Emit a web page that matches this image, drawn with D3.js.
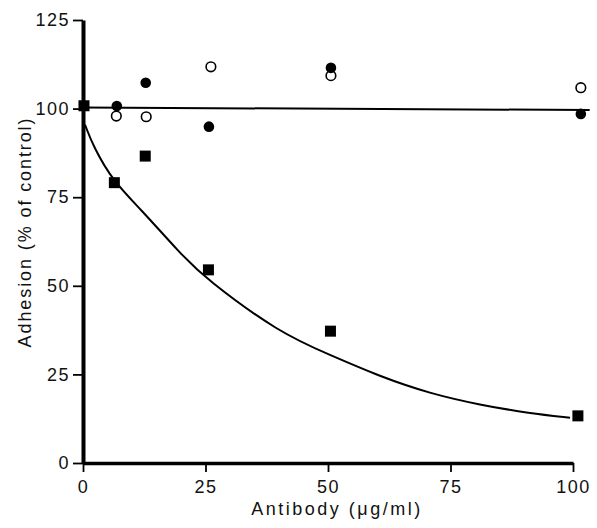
<!DOCTYPE html>
<html>
<head>
<meta charset="utf-8">
<script src="https://cdn.jsdelivr.net/npm/d3@7"></script>
<style>
  body { margin: 0; background: #fff; }
  text { font-family: "Liberation Sans", Arial, Helvetica, sans-serif; fill: #111; }
</style>
</head>
<body>
<div id="chart-area"></div>
<script>
var w = 597;
var h = 528;

// values (antibody ug/ml, adhesion % of control)
var filledX = [6.9, 12.8, 25.7, 50.6, 101.6];
var filledY = [100.7, 107.3, 94.9, 111.5, 98.5];
var openX = [6.8, 12.9, 26.1, 50.6, 101.6];
var openY = [97.9, 97.7, 111.8, 109.3, 105.9];
var squareX = [0.2, 6.4, 12.7, 25.6, 50.5, 101];
var squareY = [100.8, 79.1, 86.6, 54.5, 37.2, 13.3];
// fitted curve as traced on the figure
var curveX = [0.4, 2.1, 6.2, 11.6, 19.8, 24.9, 40.2, 50.4, 60.6, 70.8, 81, 91.2, 99.4];
var curveY = [95.5, 89.3, 79.4, 71.9, 59.2, 52.1, 36.6, 30.5, 24.4, 19.6, 16.4, 14, 12.8];
// control line
var lineX = [0, 103.4];
var lineY = [100.3, 99.6];
var xTicks = [0, 25, 50, 75, 100];
var yTicks = [0, 25, 50, 75, 100, 125];

var svg = d3.select('#chart-area').append('svg')
    .attr('width', w)
    .attr('height', h);

var x = d3.scaleLinear().domain([0, 100]).range([83, 573]);
var y = d3.scaleLinear().domain([0, 125]).range([463, 20]);

// axes
var xAxis = svg.append('g')
    .attr('transform', 'translate(0,463)')
    .call(d3.axisBottom(x).tickValues(xTicks).tickSize(9).tickPadding(8).tickSizeOuter(0));
var yAxis = svg.append('g')
    .attr('transform', 'translate(83,0)')
    .call(d3.axisLeft(y).tickValues(yTicks).tickSize(10).tickPadding(3).tickSizeOuter(0));

xAxis.select('.domain').attr('stroke', '#000').attr('stroke-width', 3.5);
yAxis.select('.domain').attr('stroke', '#000').attr('stroke-width', 4);
svg.selectAll('.tick line').attr('stroke', '#000').attr('stroke-width', 1.8);
svg.selectAll('.tick text')
    .attr('font-size', 18)
    .attr('letter-spacing', 1.5)
    .attr('fill', '#111')
    .style('font-family', '"Liberation Sans", Arial, sans-serif');

// axis titles
svg.append('text')
    .attr('x', 337)
    .attr('y', 515)
    .attr('text-anchor', 'middle')
    .attr('font-size', 18)
    .attr('letter-spacing', 2.5)
    .text('Antibody (μg/ml)');
svg.append('text')
    .attr('transform', 'translate(31,232) rotate(-90)')
    .attr('text-anchor', 'middle')
    .attr('font-size', 18)
    .attr('letter-spacing', 1.9)
    .text('Adhesion (% of control)');

// control line
var line = d3.line()
    .x(d => x(d[0]))
    .y(d => y(d[1]));
svg.append('path')
    .datum(d3.zip(lineX, lineY))
    .attr('d', line)
    .attr('fill', 'none')
    .attr('stroke', '#000')
    .attr('stroke-width', 2);

// decay curve
svg.append('path')
    .datum(d3.zip(curveX, curveY))
    .attr('d', line.curve(d3.curveBasis))
    .attr('fill', 'none')
    .attr('stroke', '#000')
    .attr('stroke-width', 2);

// markers
svg.append('g').selectAll('circle')
    .data(d3.zip(openX, openY))
    .enter()
    .append('circle')
    .attr('cx', d => x(d[0]))
    .attr('cy', d => y(d[1]))
    .attr('r', 4.8)
    .attr('fill', '#fff')
    .attr('stroke', '#000')
    .attr('stroke-width', 1.6);

svg.append('g').selectAll('circle')
    .data(d3.zip(filledX, filledY))
    .enter()
    .append('circle')
    .attr('cx', d => x(d[0]))
    .attr('cy', d => y(d[1]))
    .attr('r', 5.3)
    .attr('fill', '#000');

var sq = 11;
svg.append('g').selectAll('rect')
    .data(d3.zip(squareX, squareY))
    .enter()
    .append('rect')
    .attr('x', d => x(d[0]) - sq / 2)
    .attr('y', d => y(d[1]) - sq / 2)
    .attr('width', sq)
    .attr('height', sq)
    .attr('fill', '#000');
</script>
</body>
</html>
